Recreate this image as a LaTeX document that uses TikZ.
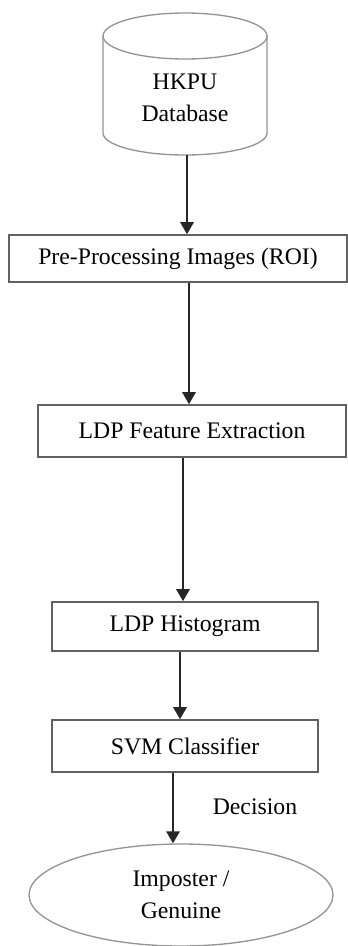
\documentclass[tikz,border=0pt]{standalone}
\usepackage{fontspec}
\setmainfont{Liberation Serif}
\usetikzlibrary{arrows.meta,shapes.geometric}
\tikzset{
  boxnode/.style={draw=black!62, line width=1.2pt, rectangle, inner sep=0pt, font=\fontsize{17.8}{23}\selectfont},
  outline/.style={draw=black!42, line width=1pt},
  arr/.style={draw=black!85, line width=1.5pt, -{Triangle[length=9pt,width=10pt]}},
  lbl/.style={font=\fontsize{17.8}{24}\selectfont, align=center, inner sep=0pt}
}
\begin{document}
\begin{tikzpicture}[x=0.75pt,y=-0.75pt]
\useasboundingbox (0,0) rectangle (348,946);
% cylinder (database)
\draw[outline] (103,36) -- (103,133) arc[start angle=180,end angle=0,x radius=82,y radius=22] -- (267,36);
\draw[outline] (185,36) ellipse [x radius=82, y radius=23];
\node[lbl] (db) at (185,98) {HKPU\\Database};
\coordinate (dbb) at (187,155);
% boxes
\node[boxnode, minimum width=253.5pt, minimum height=35.25pt] (pre) at (178,258.5) {Pre-Processing Images (ROI)};
\node[boxnode, minimum width=231pt, minimum height=39pt] (feat) at (192,431) {LDP Feature Extraction};
\node[boxnode, minimum width=199.5pt, minimum height=36.75pt] (hist) at (185,626.5) {LDP Histogram};
\node[boxnode, minimum width=199.5pt, minimum height=39pt] (svm) at (185,746) {SVM Classifier};
\node[ellipse, outline, minimum width=228pt, minimum height=76.5pt, inner sep=0pt, lbl] (dec) at (181,895) {Imposter /\\Genuine};
\node[lbl] (declbl) at (255,807) {Decision};
% arrow x positions
\coordinate (a2) at (189,0);
\coordinate (a3) at (183,0);
\coordinate (a4) at (180,0);
\coordinate (a5) at (173,0);
% connectors
\draw[arr] (dbb) -- (dbb |- pre.north);
\draw[arr] (pre.south -| a2) -- (feat.north -| a2);
\draw[arr] (feat.south -| a3) -- (hist.north -| a3);
\draw[arr] (hist.south -| a4) -- (svm.north -| a4);
\draw[arr] (svm.south -| a5) -- (dec.north -| a5);
\end{tikzpicture}
\end{document}
